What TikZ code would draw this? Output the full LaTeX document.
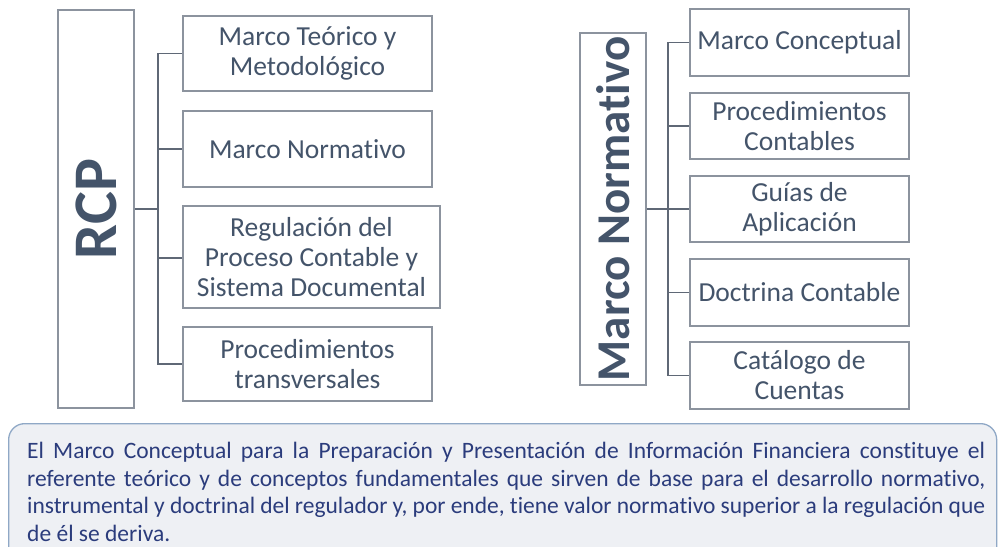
\documentclass[tikz,border=0pt]{standalone}
\usepackage{fontspec}
\setmainfont[Ligatures=NoCommon]{Carlito}
\begin{document}
\begin{tikzpicture}[x=1pt,y=-1pt,
  boxcol/.style={draw=boxline,line width=1.3pt,fill=white,inner sep=0pt,align=center,
    text=txtcol,font=\fontsize{27.5}{30}\selectfont},
  conn/.style={draw=connline,line width=1.4pt},
  bigbox/.style={draw=boxline,line width=1.4pt,fill=white,inner sep=0pt,text=txtcol}]
\definecolor{boxline}{HTML}{8C939E}
\definecolor{connline}{HTML}{5F6876}
\definecolor{txtcol}{HTML}{44546A}
\definecolor{notefill}{HTML}{EEF0F4}
\definecolor{noteline}{HTML}{8FA8C6}
\definecolor{notetxt}{HTML}{2B3C7C}
\clip (0,0) rectangle (998,546);
\fill[white] (0,0) rectangle (998,546);
% left part
\node[bigbox,minimum width=76pt,minimum height=398pt] (rcp) at (96,209)
  {\rotatebox{90}{\fontsize{62}{62}\selectfont\bfseries RCP}};
\node[boxcol,minimum width=249pt,minimum height=75pt] (l1) at (307.5,53.5) {Marco Teórico y\\Metodológico};
\node[boxcol,minimum width=249pt,minimum height=76pt] (l2) at (307.5,149) {Marco Normativo};
\node[boxcol,minimum width=257pt,minimum height=102pt] (l3) at (311.5,257) {Regulación del\\Proceso Contable y\\Sistema Documental};
\node[boxcol,minimum width=249pt,minimum height=74pt] (l4) at (307.5,364) {Procedimientos\\transversales};
\coordinate (lt) at (158,209);
\draw[conn] (rcp.east) -- (lt);
\draw[conn] (lt) |- (l1.west);
\draw[conn] (lt) |- (l2.west);
\draw[conn] (lt) |- ([yshift=-1pt]l3.west);
\draw[conn] (lt) |- (l4.west);
% right part
\node[bigbox,minimum width=66pt,minimum height=352pt] (mn) at (613,209)
  {\rotatebox{90}{\fontsize{47}{47}\selectfont\bfseries Marco Normativo}};
\node[boxcol,minimum width=219pt,minimum height=67pt] (r1) at (799.5,42.5) {Marco Conceptual};
\node[boxcol,minimum width=219pt,minimum height=66pt] (r2) at (799.5,126) {Procedimientos\\Contables};
\node[boxcol,minimum width=219pt,minimum height=66pt] (r3) at (799.5,209) {Guías de\\Aplicación};
\node[boxcol,minimum width=219pt,minimum height=67pt] (r4) at (799.5,292.5) {Doctrina Contable};
\node[boxcol,minimum width=219pt,minimum height=67pt] (r5) at (799.5,375.5) {Catálogo de\\Cuentas};
\coordinate (rt) at (668,209);
\draw[conn] (mn.east) -- (rt);
\foreach \n in {r1,r2,r3,r4,r5} \draw[conn] (rt) |- (\n.west);
% note
\node[draw=noteline,line width=1.3pt,fill=notefill,rounded corners=16pt,
  minimum width=988pt,minimum height=150pt,anchor=north west,inner sep=0pt] (note) at (8,423) {};
\node[anchor=north west,inner sep=0pt,text width=958pt,align=justify,text=notetxt,
  font=\fontsize{23.5}{27.7}\selectfont] (notetext) at (27,442)
  {El Marco Conceptual para la Preparación y Presentación de Información Financiera constituye el\linebreak referente teórico y de conceptos fundamentales que sirven de base para el desarrollo normativo,\linebreak instrumental y doctrinal del regulador y, por ende, tiene valor normativo superior a la regulación que\linebreak de él se deriva.};
\end{tikzpicture}
\end{document}
